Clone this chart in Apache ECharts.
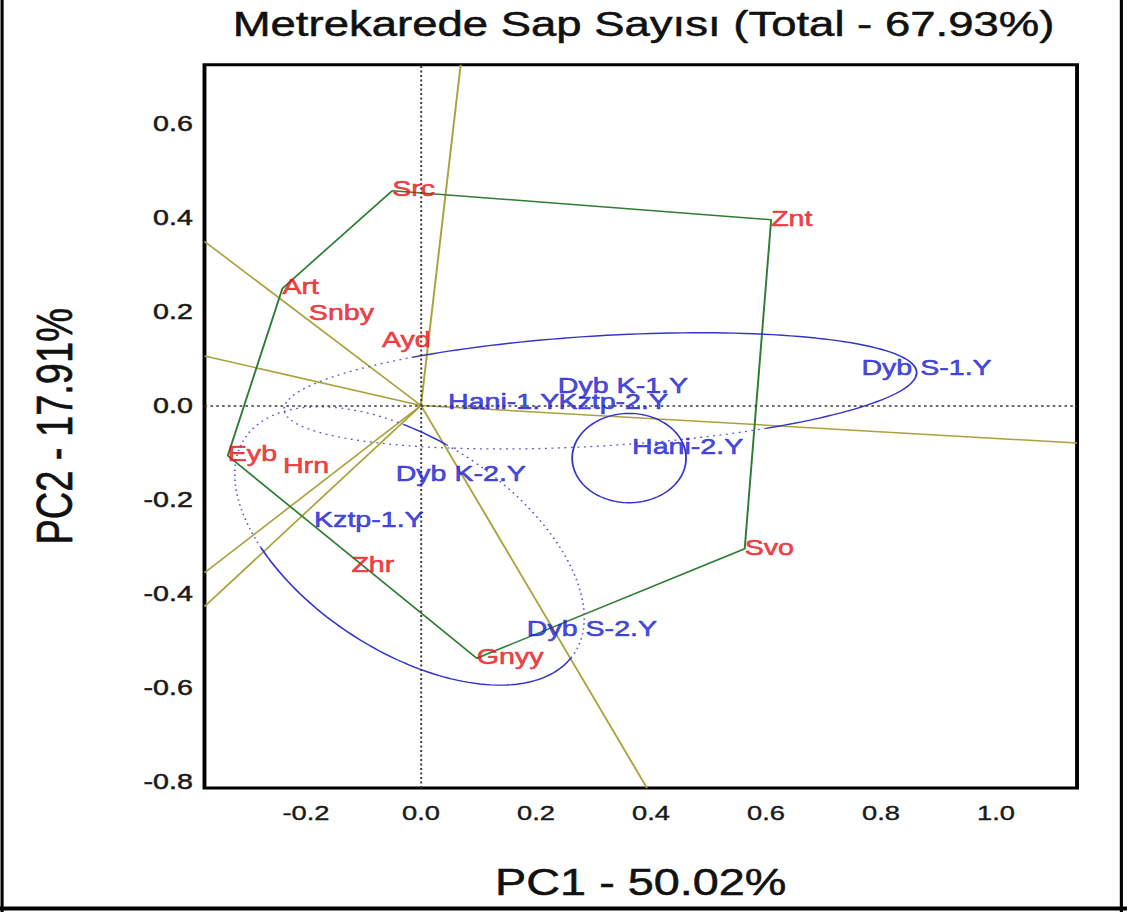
<!DOCTYPE html>
<html>
<head>
<meta charset="utf-8">
<title>Metrekarede Sap Sayısı</title>
<script src="https://cdn.jsdelivr.net/npm/echarts@6/dist/echarts.min.js"></script>
<style>
  html, body { margin: 0; padding: 0; background: #fff; overflow: hidden; }
  #wrap { width: 1127px; height: 912px; overflow: hidden; position: relative; background: #fff; }
  /* the figure is drawn at a narrower width and widened horizontally */
  #chart { width: 867px; height: 912px; transform: scaleX(1.3); transform-origin: 0 0; }
</style>
</head>
<body>
<div id="wrap"><div id="chart"></div></div>
<script>
// ---- genotype scores (PC1, PC2) ----
const genotypeNames = ['Src', 'Znt', 'Svo', 'Gnyy', 'Eyb', 'Art', 'Snby', 'Ayd', 'Hrn', 'Zhr'];
const genotypePC1 = [-0.050, 0.609, 0.563, 0.097, -0.336, -0.241, -0.195, -0.068, -0.240, -0.121];
const genotypePC2 = [0.457, 0.395, -0.305, -0.538, -0.107, 0.249, 0.195, 0.136, -0.132, -0.343];

// ---- environment scores (PC1, PC2) ----
const envNames = ['Dyb S-1.Y', 'Dyb K-1.Y', 'Hani-1.Y', 'Kztp-2.Y', 'Hani-2.Y', 'Dyb K-2.Y', 'Kztp-1.Y', 'Dyb S-2.Y'];
const envPC1 = [0.766, 0.238, 0.047, 0.239, 0.367, -0.044, -0.186, 0.184];
const envPC2 = [0.079, 0.040, 0.007, 0.006, -0.089, -0.146, -0.244, -0.476];

// ---- convex hull of the genotypes (vertex order) ----
const hullOrder = ['Src', 'Znt', 'Svo', 'Gnyy', 'Eyb', 'Art', 'Src'];

// ---- sector boundary rays, from the origin to the plot frame ----
const rayEnds = [
  [0.069, 0.725],
  [-0.3765, 0.349],
  [-0.3765, 0.105],
  [1.141, -0.080],
  [0.393, -0.814],
  [-0.3765, -0.356],
  [-0.3765, -0.428]
];

// ---- group ellipses: centre, two conjugate half-axes, solid / dotted arcs (degrees) ----
const groupEllipses = [
  { center: [0.312, 0.031], u: [0.550, 0.040], v: [0.0057, -0.117], solid: [[-126, 59]], dotted: [[59, 234]] },
  { center: [0.362, -0.112], u: [0.099, 0], v: [0, 0.095], solid: [[0, 360]], dotted: [] },
  { center: [-0.020, -0.299], u: [0.287, -0.228], v: [-0.100, -0.189], solid: [[3, 129], [249, 263]], dotted: [[129, 249], [263, 363]] }
];

// ---- axis ranges and tick labels ----
const xRange = [-0.3765, 1.141];
const yRange = [-0.814, 0.725];
const xTicks = [-0.2, 0.0, 0.2, 0.4, 0.6, 0.8, 1.0];
const yTicks = [-0.8, -0.6, -0.4, -0.2, 0.0, 0.2, 0.4, 0.6];

const COL_RED = '#e8161b';
const COL_BLUE = '#1b1ed0';
const COL_GREEN = '#2f7d35';
const COL_OLIVE = '#aaa23c';
const COL_ELL = '#3434c8';
const FONT = '"Liberation Sans", Arial, sans-serif';

function ellipseArc(e, a0, a1) {
  const n = Math.max(12, Math.round(Math.abs(a1 - a0) / 2));
  const pts = [];
  for (let k = 0; k <= n; k++) {
    const t = (a0 + (a1 - a0) * k / n) * Math.PI / 180;
    const c = Math.cos(t), s = Math.sin(t);
    pts.push([e.center[0] + e.u[0] * c + e.v[0] * s, e.center[1] + e.u[1] * c + e.v[1] * s]);
  }
  return pts;
}

const series = [];

// dotted zero lines
series.push({
  type: 'line', data: [], silent: true,
  markLine: {
    silent: true, symbol: 'none', label: { show: false },
    lineStyle: { color: '#3a3a3a', width: 1.5, type: [2, 2.5] },
    data: [{ xAxis: 0 }, { yAxis: 0 }]
  },
  z: 1
});

// sector rays
rayEnds.forEach(function (end) {
  series.push({
    type: 'line', data: [[0, 0], end], showSymbol: false, silent: true,
    lineStyle: { color: COL_OLIVE, width: 1.5 }, z: 2
  });
});

// hull polygon
const gIndex = {};
genotypeNames.forEach(function (n, i) { gIndex[n] = i; });
series.push({
  type: 'line',
  data: hullOrder.map(function (n) { return [genotypePC1[gIndex[n]], genotypePC2[gIndex[n]]]; }),
  showSymbol: false, silent: true,
  lineStyle: { color: COL_GREEN, width: 1.5 }, z: 3
});

// group ellipses
groupEllipses.forEach(function (e) {
  e.solid.forEach(function (r) {
    series.push({
      type: 'line', data: ellipseArc(e, r[0], r[1]), showSymbol: false, silent: true,
      lineStyle: { color: COL_ELL, width: 1.4 }, z: 4
    });
  });
  e.dotted.forEach(function (r) {
    series.push({
      type: 'line', data: ellipseArc(e, r[0], r[1]), showSymbol: false, silent: true,
      lineStyle: { color: '#5a5ad0', width: 1.3, type: [1.5, 3.5] }, z: 4
    });
  });
});

// genotype labels
series.push({
  type: 'scatter', symbolSize: 0, silent: true, z: 10,
  data: genotypeNames.map(function (n, i) { return { name: n, value: [genotypePC1[i], genotypePC2[i]] }; }),
  label: {
    show: true, position: 'right', distance: 0, offset: [0, -2],
    formatter: '{b}', color: COL_RED, fontSize: 22, fontFamily: FONT,
    textBorderColor: COL_RED, textBorderWidth: 0.6
  }
});

// environment labels
series.push({
  type: 'scatter', symbolSize: 0, silent: true, z: 11,
  data: envNames.map(function (n, i) { return { name: n, value: [envPC1[i], envPC2[i]] }; }),
  label: {
    show: true, position: 'right', distance: 0, offset: [0, -1],
    formatter: '{b}', color: COL_BLUE, fontSize: 22, fontFamily: FONT,
    textBorderColor: COL_BLUE, textBorderWidth: 0.6
  }
});

const chart = echarts.init(document.getElementById('chart'), null, { renderer: 'svg' });
chart.setOption({
  animation: false,
  backgroundColor: '#fff',
  title: {
    text: 'Metrekarede Sap Sayısı (Total - 67.93%)',
    left: 495, top: 6, textAlign: 'center', padding: 0,
    textStyle: {
      fontSize: 35, fontWeight: 'normal', fontFamily: FONT, color: '#111',
      textBorderColor: '#111', textBorderWidth: 0.5
    }
  },
  grid: {
    left: 157.3, right: 38.5, top: 64.7, bottom: 124,
    show: true, borderColor: '#000', borderWidth: 3, backgroundColor: '#fff'
  },
  xAxis: {
    type: 'value', min: xRange[0], max: xRange[1],
    axisLine: { show: false }, axisTick: { show: false }, splitLine: { show: false },
    axisLabel: {
      customValues: xTicks, formatter: function (v) { return v.toFixed(1); },
      fontSize: 21, fontFamily: '"Liberation Sans Narrow", ' + FONT, color: '#1a1a1a', margin: 14,
      textBorderColor: '#1a1a1a', textBorderWidth: 0.4
    },
    name: 'PC1 - 50.02%', nameLocation: 'middle', nameGap: 76,
    nameTextStyle: { fontSize: 36, fontFamily: FONT, color: '#111', textBorderColor: '#111', textBorderWidth: 0.5 }
  },
  yAxis: {
    type: 'value', min: yRange[0], max: yRange[1],
    axisLine: { show: false }, axisTick: { show: false }, splitLine: { show: false },
    axisLabel: {
      customValues: yTicks, formatter: function (v) { return v.toFixed(1); },
      fontSize: 22, fontFamily: FONT, color: '#1a1a1a', margin: 9,
      textBorderColor: '#1a1a1a', textBorderWidth: 0.5
    },
    name: 'PC2 - 17.91%', nameLocation: 'middle', nameGap: 96,
    nameTextStyle: { fontSize: 38, fontFamily: FONT, color: '#111', textBorderColor: '#111', textBorderWidth: 0.5 }
  },
  graphic: [
    { type: 'line', silent: true, shape: { x1: 1.6, y1: 0, x2: 1.6, y2: 912 }, style: { stroke: '#000', lineWidth: 2.4 } },
    { type: 'line', silent: true, shape: { x1: 862.6, y1: 0, x2: 862.6, y2: 912 }, style: { stroke: '#000', lineWidth: 2.4 } },
    { type: 'line', silent: true, shape: { x1: 0, y1: 908.5, x2: 867, y2: 908.5 }, style: { stroke: '#000', lineWidth: 4 } }
  ],
  series: series
});
</script>
</body>
</html>
